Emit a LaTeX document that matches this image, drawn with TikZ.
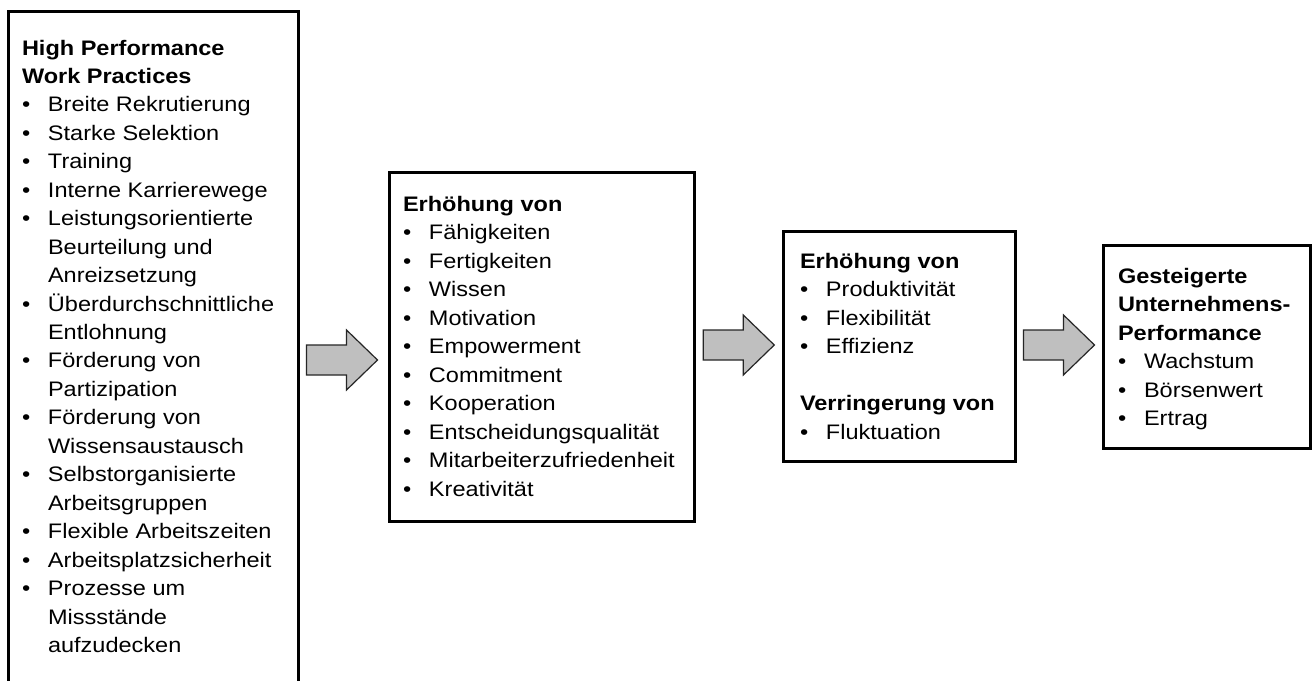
\documentclass[tikz,border=0pt]{standalone}
\usepackage{fontspec}
\setmainfont{Liberation Sans}[FakeStretch=1.12]
\usetikzlibrary{calc}
\newcommand\hpbul[1]{\makebox[26pt][l]{•}#1}
\newcommand\hpind[1]{\hspace*{26pt}#1}
\newcommand\hpfont{\fontsize{21}{28.45}\selectfont\setlength\parindent{0pt}}
\tikzset{
  box/.style={draw=black, line width=3pt, inner sep=0pt, outer sep=0pt, fill=white},
  barrow/.style={draw=black!85, fill=black!25, line width=1.2pt, line join=miter},
  txt/.style={inner sep=0pt, outer sep=0pt, text=black, anchor=base west}
}
\begin{document}
\begin{tikzpicture}[x=1pt, y=-1pt]
\useasboundingbox (0,0) rectangle (1314,680);
\clip (0,0) rectangle (1314,680);
\fill[white] (0,0) rectangle (1314,680);

% boxes
\node[box, minimum width=290pt, minimum height=700pt] (b1) at (153,361.5) {};
\node[box, minimum width=305.5pt, minimum height=349pt] (b2) at (542,346.5) {};
\node[box, minimum width=232pt, minimum height=230pt] (b3) at (899,346.5) {};
\node[box, minimum width=206.5pt, minimum height=203pt] (b4) at (1206.75,346.5) {};

% texts
\node[txt] (t1) at (22,55) {\begin{minipage}[t]{272pt}\hpfont
\textbf{High Performance}\\
\textbf{Work Practices}\\
\hpbul{Breite Rekrutierung}\\
\hpbul{Starke Selektion}\\
\hpbul{Training}\\
\hpbul{Interne Karrierewege}\\
\hpbul{Leistungsorientierte}\\
\hpind{Beurteilung und}\\
\hpind{Anreizsetzung}\\
\hpbul{Überdurchschnittliche}\\
\hpind{Entlohnung}\\
\hpbul{Förderung von}\\
\hpind{Partizipation}\\
\hpbul{Förderung von}\\
\hpind{Wissensaustausch}\\
\hpbul{Selbstorganisierte}\\
\hpind{Arbeitsgruppen}\\
\hpbul{Flexible Arbeitszeiten}\\
\hpbul{Arbeitsplatzsicherheit}\\
\hpbul{Prozesse um}\\
\hpind{Missstände}\\
\hpind{aufzudecken}
\end{minipage}};

\node[txt] (t2) at (403,211.5) {\begin{minipage}[t]{285pt}\hpfont
\textbf{Erhöhung von}\\
\hpbul{Fähigkeiten}\\
\hpbul{Fertigkeiten}\\
\hpbul{Wissen}\\
\hpbul{Motivation}\\
\hpbul{Empowerment}\\
\hpbul{Commitment}\\
\hpbul{Kooperation}\\
\hpbul{Entscheidungsqualität}\\
\hpbul{Mitarbeiterzufriedenheit}\\
\hpbul{Kreativität}
\end{minipage}};

\node[txt] (t3) at (800,268.5) {\begin{minipage}[t]{212pt}\hpfont
\textbf{Erhöhung von}\\
\hpbul{Produktivität}\\
\hpbul{Flexibilität}\\
\hpbul{Effizienz}\\[28.45pt]
\textbf{Verringerung von}\\
\hpbul{Fluktuation}
\end{minipage}};

\node[txt] (t4) at (1118,283.5) {\begin{minipage}[t]{190pt}\hpfont
\textbf{Gesteigerte}\\
\textbf{Unternehmens-}\\
\textbf{Performance}\\
\hpbul{Wachstum}\\
\hpbul{Börsenwert}\\
\hpbul{Ertrag}
\end{minipage}};

% block arrows
\foreach \s in {b1,b2,b3}{
  \draw[barrow] ($(\s.east)+(8.5,-16.5)$) -- ++(40,0) -- ++(0,-15) -- ++(31,30)
    -- ++(-31,30) -- ++(0,-15) -- ++(-40,0) -- cycle;
}
\end{tikzpicture}
\end{document}
